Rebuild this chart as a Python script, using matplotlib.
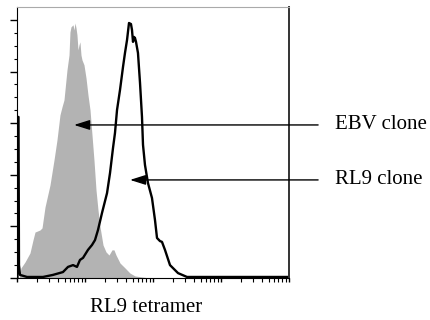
import numpy as np
import matplotlib
matplotlib.use("Agg")
import matplotlib.pyplot as plt

plt.rcParams['font.family'] = ['Liberation Serif', 'DejaVu Serif']

# EBV clone (grey filled histogram): log10 of intensity, % of max
ebv_log = [0.029, 0.059, 0.118, 0.191, 0.235, 0.265, 0.338, 0.368, 0.412, 0.485,
           0.544, 0.588, 0.632, 0.662, 0.691, 0.735, 0.765, 0.779, 0.794, 0.824,
           0.838, 0.853, 0.868, 0.882, 0.897, 0.912, 0.926, 0.941, 0.956, 0.985,
           1.015, 1.044, 1.074, 1.103, 1.132, 1.162, 1.191, 1.221, 1.265, 1.309,
           1.353, 1.397, 1.426, 1.456, 1.515, 1.588, 1.662, 1.735, 1.838, 1.956]
ebv_pct = [0.0, 3.9, 6.2, 9.7, 14.7, 17.8, 18.6, 19.4, 27.5, 36.0,
           45.7, 53.5, 63.2, 66.3, 69.0, 80.6, 86.4, 95.3, 97.3, 98.1,
           96.1, 98.8, 96.9, 94.2, 88.4, 90.3, 91.5, 86.4, 84.5, 82.6,
           77.5, 70.9, 65.1, 55.4, 45.7, 34.1, 26.4, 19.8, 12.8, 10.1,
           8.9, 10.9, 10.9, 8.9, 5.8, 3.9, 1.9, 0.8, 0.4, 0.0]

# RL9 clone (black line)
rl9_log = [0.007, 0.007, 0.022, 0.029, 0.044, 0.147, 0.382, 0.529, 0.676, 0.75,
           0.824, 0.882, 0.926, 0.971, 1.044, 1.103, 1.147, 1.191, 1.25, 1.324,
           1.368, 1.412, 1.441, 1.471, 1.515, 1.559, 1.588, 1.618, 1.647, 1.676,
           1.691, 1.706, 1.721, 1.735, 1.75, 1.779, 1.809, 1.838, 1.853, 1.882,
           1.926, 1.985, 2.029, 2.059, 2.103, 2.132, 2.176, 2.25, 2.368, 2.5,
           2.647, 3.985]
rl9_pct = [0.0, 62.4, 62.4, 5.0, 1.2, 0.4, 0.4, 1.2, 2.3, 4.3,
           5.0, 4.3, 7.0, 7.8, 10.9, 12.8, 14.7, 18.6, 25.2, 32.9,
           40.7, 50.4, 56.2, 65.1, 72.9, 81.8, 87.2, 92.2, 98.8, 98.4,
           96.1, 91.5, 93.4, 93.0, 91.5, 87.2, 75.6, 62.4, 51.6, 43.8,
           36.8, 31.0, 22.5, 15.5, 14.3, 14.0, 10.9, 5.0, 1.9, 0.4,
           0.4, 0.4]

labels = ['EBV clone', 'RL9 clone']
arrow_tips = [(6.9, 59.3), (45.9, 38.0)]

ymax = 105

fig = plt.figure(figsize=(4.3, 3.2), dpi=100)
ax = fig.add_axes([17/430, 42/320, 272/430, 271/320])

ax.fill_between(10**np.array(ebv_log), ebv_pct, color='#b3b3b3', lw=0)
ax.plot(10**np.array(rl9_log), rl9_pct, color='black', lw=1.7)

ax.set_xscale('log')
ax.set_xlim(1, 1e4)
ax.set_ylim(0, ymax)
ax.set_yticks([0, 20, 40, 60, 80, 100])
ax.set_yticks(np.arange(0, 105, 5), minor=True)
ax.set_yticklabels([])
ax.set_xticklabels([], minor=True)
ax.set_xticklabels([])
ax.tick_params(axis='both', which='major', direction='out', length=5, width=1)
ax.tick_params(axis='both', which='minor', direction='out', length=2.5, width=0.8)
ax.tick_params(axis='x', which='both', length=3)

ax.spines['top'].set_color('#aaaaaa')
ax.spines['right'].set_color('#333333')
ax.spines['right'].set_linewidth(1.4)

for lab, (tx, ty) in zip(labels, arrow_tips):
    yf = ty / ymax
    ax.annotate('', xy=(tx, ty), xycoords='data',
                xytext=(1.107, yf), textcoords='axes fraction',
                arrowprops=dict(arrowstyle='-|>,head_length=0.95,head_width=0.3',
                                color='black', lw=1, shrinkA=0, shrinkB=0),
                annotation_clip=False)
    ax.text(1.169, yf, lab, transform=ax.transAxes, ha='left', va='center',
            fontsize=15)

fig.text(146/430, 1 - 307/320, 'RL9 tetramer', ha='center', va='center',
         fontsize=15)

fig.savefig('out.png', dpi=100)
